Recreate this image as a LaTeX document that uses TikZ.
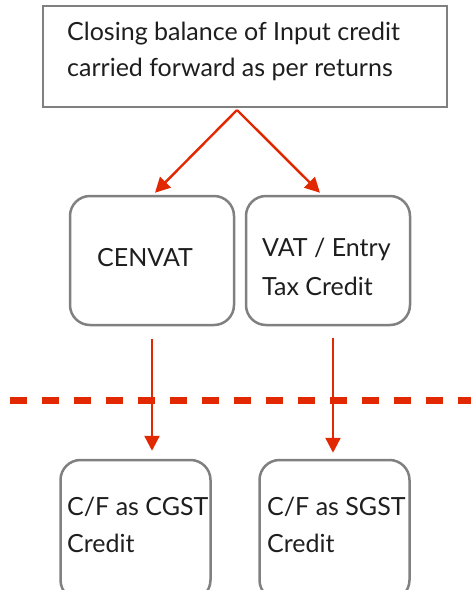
\documentclass[tikz,border=0pt]{standalone}
\usepackage{fontspec}
\setmainfont{Lato}
\usetikzlibrary{arrows.meta}

\definecolor{flowred}{RGB}{226,40,0}
\definecolor{boxgray}{RGB}{128,128,128}
\definecolor{ink}{RGB}{30,30,30}

\begin{document}
\begin{tikzpicture}[x=1pt, y=-1pt]
  % Styles
  \tikzset{
    box/.style={draw=boxgray, line width=2.5pt, rounded corners=20pt, inner sep=0pt},
    topbox/.style={draw=boxgray, line width=2pt, inner sep=0pt,
      minimum width=404pt, minimum height=101pt},
    midbox/.style={box, minimum width=164pt, minimum height=129pt},
    lowbox/.style={box, minimum width=150pt, minimum height=140pt},
    txt/.style={anchor=west, align=left, inner sep=0pt, text=ink,
      font=\fontsize{25}{36}\selectfont},
    flow/.style={-{Triangle[length=15pt, width=15pt]}, draw=flowred,
      line width=2.4pt},
    cut/.style={draw=flowred, line width=7pt, dash pattern=on 17pt off 15pt},
  }

  \useasboundingbox (0,0) rectangle (471,590);

  % Boxes
  \node[topbox] (top) at (245,56.5) {};
  \node[midbox] (cenvat) at (152,260.5) {};
  \node[midbox] (vat) at (328,260.5) {};
  \node[lowbox] (cgst) at (135.5,530) {};
  \node[lowbox] (sgst) at (334.5,530) {};

  % Texts
  \node[txt] (topT) at (67,51) {Closing balance of Input credit\\carried forward as per returns};
  \node[txt] (cenvatT) at (97,258) {CENVAT};
  \node[txt, font=\fontsize{25}{39}\selectfont] (vatT) at (262,267) {VAT / Entry\\Tax Credit};
  \node[txt, font=\fontsize{25}{37}\selectfont] (cgstT) at (67,525) {C/F as CGST\\Credit};
  \node[txt, font=\fontsize{25}{37}\selectfont] (sgstT) at (267,525) {C/F as SGST\\Credit};

  % Dashed cut line
  \coordinate (cutL) at (10,400);
  \coordinate (cutR) at (480,400);
  \draw[cut] (cutL) -- (cutR);

  % Arrows
  \draw[flow] ([xshift=-8pt,yshift=-2pt]top.south) -- ([xshift=3pt,yshift=2pt]cenvat.north);
  \draw[flow] ([xshift=-8pt,yshift=-2pt]top.south) -- ([xshift=-8pt,yshift=2pt]vat.north);
  \draw[flow] ([yshift=-13pt]cenvat.south) -- ([yshift=8pt]cenvat.south |- cgst.north);
  \draw[flow] ([xshift=5pt,yshift=-12pt]vat.south) -- ([xshift=5pt,yshift=6pt]vat.south |- sgst.north);

\end{tikzpicture}
\end{document}
